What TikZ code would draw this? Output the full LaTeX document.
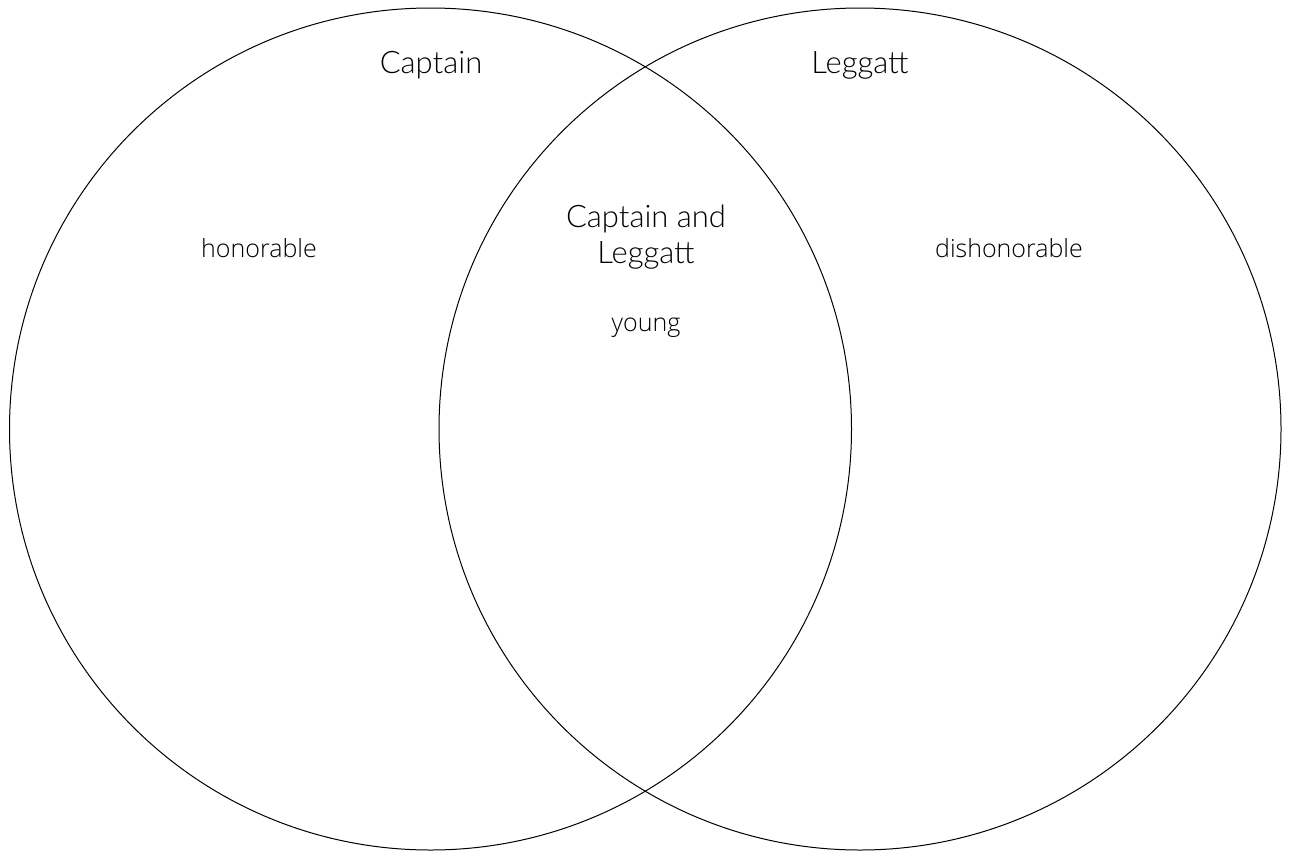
\documentclass[tikz,border=0pt]{standalone}
\usepackage{fontspec}
\setmainfont{Lato}[UprightFont=* Light]
\newfontfamily\handfont{Open Sans}[UprightFont=* Light]
\begin{document}
\begin{tikzpicture}[x=1pt,y=-1pt,
  circ/.style={draw=black,line width=1pt},
  title/.style={font=\fontsize{31}{36}\selectfont,text=black,align=center},
  item/.style={font=\handfont\fontsize{25}{30}\selectfont,text=black}]
\useasboundingbox (0,0) rectangle (1292,852);
\node[circ,circle,minimum size=842pt,inner sep=0pt] (left) at (430.5,429) {};
\node[circ,circle,minimum size=842pt,inner sep=0pt] (right) at (860,429) {};
\node[title] (tc) at (431,65) {Captain};
\node[title] (tl) at (860,65) {Leggatt};
\node[title] (tb) at (646,237) {Captain and\\Leggatt};
\node[item] (hon) at (259,248) {honorable};
\node[item] (dis) at (1009,248) {dishonorable};
\node[item] (young) at (646,328) {young};
\end{tikzpicture}
\end{document}
